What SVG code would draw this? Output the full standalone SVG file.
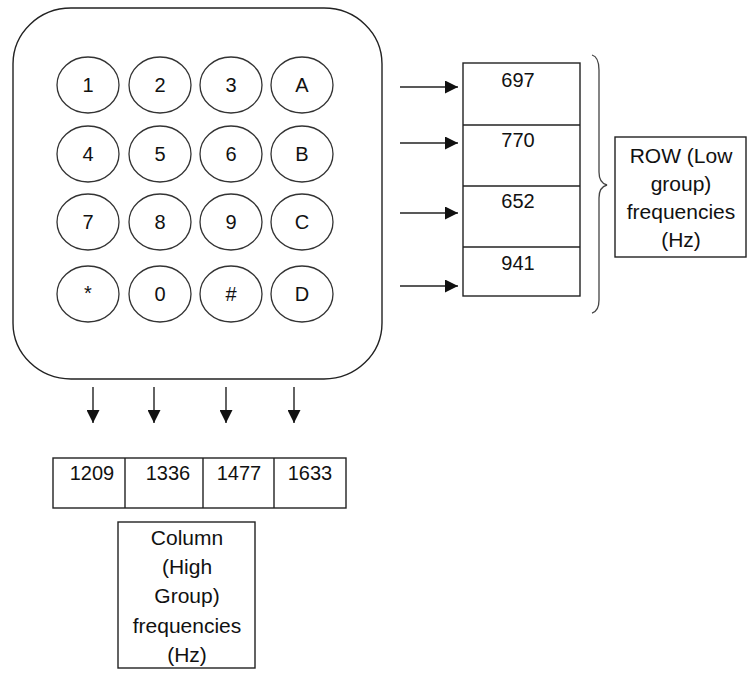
<svg xmlns="http://www.w3.org/2000/svg" width="747" height="673" viewBox="0 0 747 673">
<defs>
<style>
.ln{fill:none;stroke:#222;stroke-width:1.4}
.bx{fill:#fff;stroke:#222;stroke-width:1.4}
.key{fill:#fff;stroke:#333;stroke-width:1.3}
.t{font-family:"Liberation Sans",Arial,sans-serif;font-size:20px;fill:#111;text-anchor:middle}
.lb{font-family:"Liberation Sans",Arial,sans-serif;font-size:21px;fill:#111;text-anchor:middle}
</style>
<marker id="ah" viewBox="0 0 13 13" refX="13" refY="6.5" markerWidth="13" markerHeight="13" markerUnits="userSpaceOnUse" orient="auto">
<path d="M0,0 L13,6.5 L0,13 z" fill="#111"/>
</marker>
</defs>
<rect width="747" height="673" fill="#fff"/>
<g id="keypad">
<rect x="13" y="8" width="369" height="371" rx="58" ry="56" class="ln"/>
</g>
<g id="keys">
<g id="k1"><ellipse cx="88" cy="85" rx="31" ry="28" class="key"/><text x="88" y="92" class="t">1</text></g>
<g id="k2"><ellipse cx="160" cy="85" rx="31" ry="28" class="key"/><text x="160" y="92" class="t">2</text></g>
<g id="k3"><ellipse cx="231" cy="85" rx="31" ry="28" class="key"/><text x="231" y="92" class="t">3</text></g>
<g id="kA"><ellipse cx="302" cy="85" rx="31" ry="28" class="key"/><text x="302" y="92" class="t">A</text></g>
<g id="k4"><ellipse cx="88" cy="154" rx="31" ry="28" class="key"/><text x="88" y="161" class="t">4</text></g>
<g id="k5"><ellipse cx="160" cy="154" rx="31" ry="28" class="key"/><text x="160" y="161" class="t">5</text></g>
<g id="k6"><ellipse cx="231" cy="154" rx="31" ry="28" class="key"/><text x="231" y="161" class="t">6</text></g>
<g id="kB"><ellipse cx="302" cy="154" rx="31" ry="28" class="key"/><text x="302" y="161" class="t">B</text></g>
<g id="k7"><ellipse cx="88" cy="222" rx="31" ry="28" class="key"/><text x="88" y="229" class="t">7</text></g>
<g id="k8"><ellipse cx="160" cy="222" rx="31" ry="28" class="key"/><text x="160" y="229" class="t">8</text></g>
<g id="k9"><ellipse cx="231" cy="222" rx="31" ry="28" class="key"/><text x="231" y="229" class="t">9</text></g>
<g id="kC"><ellipse cx="302" cy="222" rx="31" ry="28" class="key"/><text x="302" y="229" class="t">C</text></g>
<g id="kstar"><ellipse cx="88" cy="294" rx="31" ry="28" class="key"/><text x="88" y="300" class="t">*</text></g>
<g id="k0"><ellipse cx="160" cy="294" rx="31" ry="28" class="key"/><text x="160" y="301" class="t">0</text></g>
<g id="khash"><ellipse cx="231" cy="294" rx="31" ry="28" class="key"/><text x="231" y="301" class="t">#</text></g>
<g id="kD"><ellipse cx="302" cy="294" rx="31" ry="28" class="key"/><text x="302" y="301" class="t">D</text></g>
</g>
<g id="row-freqs">
<rect x="463" y="63" width="117" height="233" class="bx"/>
<line x1="463" y1="125" x2="580" y2="125" class="ln"/>
<line x1="463" y1="186" x2="580" y2="186" class="ln"/>
<line x1="463" y1="247" x2="580" y2="247" class="ln"/>
<text x="518" y="87" class="t">697</text>
<text x="518" y="147" class="t">770</text>
<text x="518" y="208" class="t">652</text>
<text x="518" y="270" class="t">941</text>
</g>
<g id="row-label">
<rect x="615" y="137" width="131" height="120" class="bx"/>
<text x="681" y="163" class="lb">ROW (Low</text>
<text x="681" y="191" class="lb">group)</text>
<text x="681" y="219" class="lb">frequencies</text>
<text x="681" y="247" class="lb">(Hz)</text>
</g>
<g id="brace">
<path d="M592,55 Q599,57 599,70 L599,172 Q599,183 607,185 Q599,187 599,198 L599,300 Q599,311 592,313" fill="none" stroke="#444" stroke-width="1.3"/>
</g>
<g id="col-freqs">
<rect x="53" y="458" width="293" height="50" class="bx"/>
<line x1="125" y1="458" x2="125" y2="508" class="ln"/>
<line x1="203" y1="458" x2="203" y2="508" class="ln"/>
<line x1="274" y1="458" x2="274" y2="508" class="ln"/>
<text x="92" y="480" class="t">1209</text>
<text x="168" y="480" class="t">1336</text>
<text x="239" y="480" class="t">1477</text>
<text x="310" y="480" class="t">1633</text>
</g>
<g id="col-label">
<rect x="118" y="522" width="137" height="146" class="bx"/>
<text x="187" y="545" class="lb">Column</text>
<text x="187" y="574" class="lb">(High</text>
<text x="187" y="603" class="lb">Group)</text>
<text x="187" y="633" class="lb">frequencies</text>
<text x="187" y="662" class="lb">(Hz)</text>
</g>
<g id="connectors">
<line x1="400" y1="87" x2="458" y2="87" class="ln" marker-end="url(#ah)"/>
<line x1="400" y1="143" x2="458" y2="143" class="ln" marker-end="url(#ah)"/>
<line x1="400" y1="213" x2="458" y2="213" class="ln" marker-end="url(#ah)"/>
<line x1="400" y1="286" x2="458" y2="286" class="ln" marker-end="url(#ah)"/>
<line x1="93" y1="387" x2="93" y2="423" class="ln" marker-end="url(#ah)"/>
<line x1="154" y1="387" x2="154" y2="423" class="ln" marker-end="url(#ah)"/>
<line x1="226" y1="387" x2="226" y2="423" class="ln" marker-end="url(#ah)"/>
<line x1="294" y1="387" x2="294" y2="423" class="ln" marker-end="url(#ah)"/>
</g>
</svg>
